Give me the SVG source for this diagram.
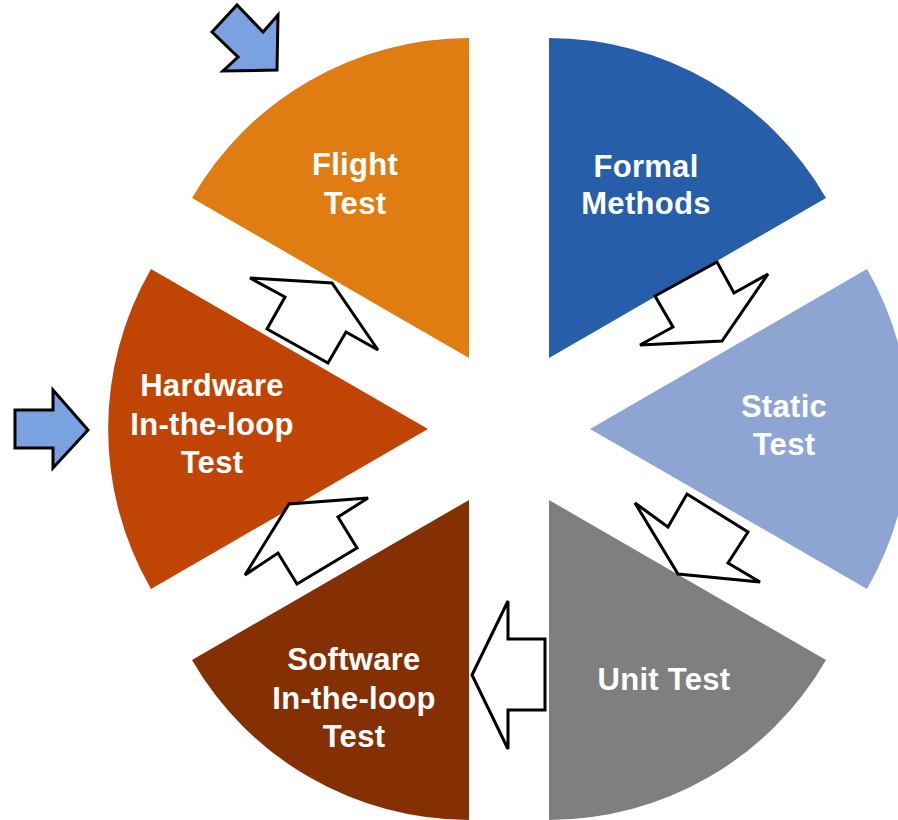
<svg xmlns="http://www.w3.org/2000/svg" width="898" height="820" viewBox="0 0 898 820">
<style>
.lbl{font-family:"Liberation Sans",Arial,sans-serif;font-weight:bold;font-size:31px;letter-spacing:0.3px;fill:#ffffff;text-anchor:middle}
.flow{fill:#ffffff;stroke:#000000;stroke-width:3;stroke-linejoin:miter}
.entry{fill:#7AA2E0;stroke:#000000;stroke-width:3;stroke-linejoin:miter}
</style>
<rect width="898" height="820" fill="#ffffff"/>
<g id="formal-methods">
<path d="M549,358 L549,38 A320,320 0 0 1 826,198 Z" fill="#265EA9"/>
<text class="lbl" x="646" y="177">Formal</text>
<text class="lbl" x="646" y="214">Methods</text>
</g>
<g id="static-test">
<path d="M590,429 L867,269 A320,320 0 0 1 867,589 Z" fill="#8EA5D4"/>
<text class="lbl" x="784" y="417">Static</text>
<text class="lbl" x="784" y="455">Test</text>
</g>
<g id="unit-test">
<path d="M549,500 L826,660 A320,320 0 0 1 549,820 Z" fill="#7F7F7F"/>
<text class="lbl" x="664" y="690">Unit Test</text>
</g>
<g id="software-test">
<path d="M469,500 L469,820 A320,320 0 0 1 192,660 Z" fill="#842F04"/>
<text class="lbl" x="354" y="670">Software</text>
<text class="lbl" x="354" y="709">In-the-loop</text>
<text class="lbl" x="354" y="747">Test</text>
</g>
<g id="hardware-test">
<path d="M428,429 L151,589 A320,320 0 0 1 151,269 Z" fill="#C04504"/>
<text class="lbl" x="212" y="396">Hardware</text>
<text class="lbl" x="212" y="435">In-the-loop</text>
<text class="lbl" x="212" y="473">Test</text>
</g>
<g id="flight-test">
<path d="M469,358 L192,198 A320,320 0 0 1 469,38 Z" fill="#E07D12"/>
<text class="lbl" x="355" y="175">Flight</text>
<text class="lbl" x="355" y="214">Test</text>
</g>
<g id="connectors">
<polygon class="flow" points="655,296 717,262 734,293 768,274 722,341 640,345 673,327"/>
<polygon class="flow" points="635,503 668,527 687,494 748,532 728,563 760,582 678,574"/>
<polygon class="flow" points="472,675 508,601 508,639 545,639 545,710 508,710 508,749"/>
<polygon class="flow" points="245,575 278,553 297,584 357,548 338,517 368,498 289,504"/>
<polygon class="flow" points="250,278 285,297 267,329 328,363 346,332 378,350 332,283"/>
<polygon class="entry" points="212,32 237,5 263,32 278,15 277,70 223,71 238,57"/>
<polygon class="entry" points="15,410 53,410 53,390 88,430 53,468 53,448 15,448"/>
</g>
</svg>
